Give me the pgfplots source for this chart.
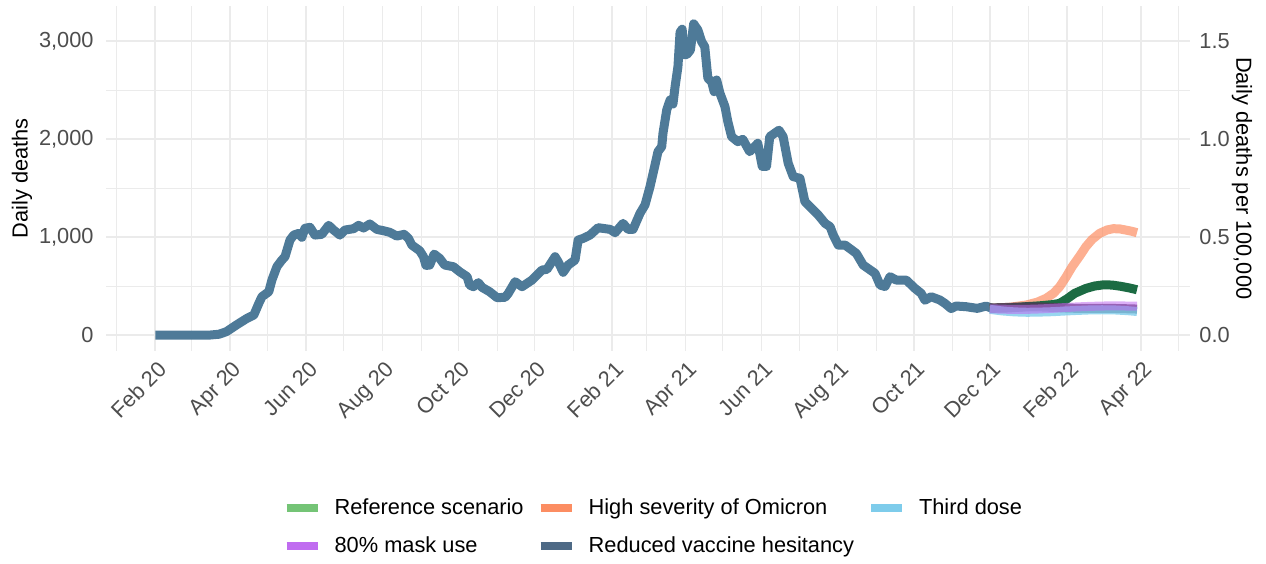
\documentclass[border=0pt]{standalone}
\usepackage{fontspec}
\setmainfont{Liberation Sans}
\usepackage{pgfplots}
\pgfplotsset{compat=1.18}

\definecolor{gridc}{HTML}{EBEBEB}
\definecolor{tickc}{HTML}{4D4D4D}
\definecolor{histc}{HTML}{4E7A98}
\definecolor{refline}{HTML}{1C6B43}
\definecolor{refkey}{HTML}{74C476}
\definecolor{sevc}{HTML}{FC8D62}
\definecolor{dosec}{HTML}{7ECCEB}
\definecolor{maskc}{HTML}{C06CF0}
\definecolor{vaxc}{HTML}{4E6A86}
\definecolor{vaxline}{HTML}{4F3A55}

\newcommand{\chartfont}{\fontsize{10.9}{13}\selectfont}

\pgfplotstableread{
day deaths
31 0
75 0
82 8
88 34
96 102
104.5 170
110 204
114 323
116.5 391
122 442
124.5 561
128.5 697
132.5 765
135 799
139 969
142 1020
146 1037
148.5 997
151 1089
155 1099
159 1020
164.5 1027
170 1119
174 1071
179 1020
183 1071
190 1085
194 1119
198 1092
203 1133
208.6 1078
214 1064
219 1048
224.6 1010
230.5 1027
234 986
236.7 918
243 860
246 799
248 710
251 714
254.5 826
259 782
263 714
270 697
275 646
281 595
283 510
286 493
290 534
293 486
299 442
305 381
311.5 385
314 425
319.5 544
325 493
333 561
341 663
345 670
351.5 799
354 748
358 640
362 714
367.5 765
370 969
374 986
379.5 1020
386 1095
395.6 1078
399.6 1044
406 1139
410 1078
414 1078
419.6 1242
423.6 1327
427.6 1513
431.6 1735
434 1871
437 1922
438 2058
441 2296
443.7 2398
446 2357
447.7 2534
450 2738
451.7 3090
453.4 3120
454.7 2860
457 2860
460 2908
462.6 3175
466 3112
469 2993
471.5 2942
474 2619
477 2585
479 2483
481 2602
483.7 2466
487.7 2330
490 2177
493 2024
498 1973
502 1997
507.5 1871
514 1956
517.6 1720
521 1720
523.6 2024
531 2090
534.3 2024
538.4 1752
542.4 1616
547.8 1599
551.8 1360
558.4 1276
562.5 1224
568 1139
572 1105
574.5 1020
578.5 918
584 918
593 833
598.5 714
608 629
612 510
616 495
620 595
625 561
633 561
640 476
645 425
648 355
653 391
660 357
664 323
669 270
673 296
681 289
690 272
697 295
702 272
}\histdata

\pgfplotstableread{
day deaths
700 272
715 282
729 306
738 335
745 374
751 425
756 493
761 590
766 697
772 805
777 901
782 975
788 1037
794 1072
799 1085
804 1083
809 1071
814 1058
818 1044
}\sevdata

\pgfplotstableread{
day deaths
700 272
715 276
729 289
740 298
750 310
756 323
762 370
768 425
777 475
784 500
791 512
798 510
805 497
812 480
818 462
}\refdata

\pgfplotstableread{
day deaths
700 262
710 246
720 236
730 232
740 234
750 238
760 245
770 251
780 256
790 258
800 256
810 249
818 240
}\dosedata

\pgfplotstableread{
day deaths
700 268
710 264
720 261
730 262
740 266
750 272
760 280
770 287
780 292
790 296
800 297
810 296
818 294
}\maskdata

\pgfplotstableread{
day deaths
700 276
710 280
720 284
730 287
740 287
750 282
760 276
770 272
780 272
790 272
800 271
810 268
818 265
}\vaxdata

\begin{document}
\begin{tikzpicture}
\pgfplotsset{
  every tick label/.append style={font=\chartfont, text=tickc, inner sep=0pt},
}
\begin{axis}[
  name=main,
  scale only axis, width=542pt, height=172.5pt,
  xmin=-8.5, xmax=860.5, ymin=-160, ymax=3360,
  axis line style={draw=none},
  major tick length=0pt, minor tick length=0pt,
  xtick={31,91,152,213,274,335,397,456,517,578,639,700,762,821},
  xticklabels={Feb 20,Apr 20,Jun 20,Aug 20,Oct 20,Dec 20,Feb 21,Apr 21,Jun 21,Aug 21,Oct 21,Dec 21,Feb 22,Apr 22},
  minor xtick={0,60,121,182,244,305,366,425,486,547,609,670,731,790,851},
  ytick={0,1000,2000,3000},
  minor ytick={500,1500,2500},
  grid=both,
  major grid style={gridc, line width=0.8pt},
  minor grid style={gridc, line width=0.4pt},
  xticklabel style={rotate=45, anchor=north east, xshift=-2.5pt, yshift=-3.7pt},
  yticklabel style={anchor=east, xshift=-6pt},
  /pgf/number format/assume math mode=true,
  every axis y label/.style={at={(axis description cs:-0.0775,0.5)}, anchor=center, rotate=90, font=\chartfont},
  ylabel={Daily deaths},
  legend columns=3,
  legend cell align=left,
  legend style={at={(axis description cs:0.504,-0.511)}, anchor=center, draw=none, fill=none,
    font=\chartfont, inner sep=0pt, row sep=9.5pt,
    nodes={inner sep=0pt},
    /tikz/every odd column/.append style={column sep=6.5pt},
    /tikz/every even column/.append style={column sep=6.5pt}},
  legend image code/.code={\draw[#1, line width=4pt] (0pt,0pt) -- (15.5pt,0pt);},
]
\addlegendimage{refkey}\addlegendentry{Reference scenario}
\addlegendimage{sevc}\addlegendentry{High severity of Omicron}
\addlegendimage{dosec}\addlegendentry{Third dose}
\addlegendimage{maskc}\addlegendentry{80\% mask use}
\addlegendimage{vaxc}\addlegendentry{Reduced vaccine hesitancy}

\addplot[histc, line width=4.5pt, line join=round, forget plot] table[x=day, y=deaths] {\histdata};
\addplot[sevc, opacity=0.7, line width=4.5pt, forget plot] table[x=day, y=deaths] {\sevdata};
\addplot[refline, line width=4.5pt, forget plot] table[x=day, y=deaths] {\refdata};
\addplot[vaxline, opacity=0.85, line width=4.5pt, forget plot] table[x=day, y=deaths] {\vaxdata};
\addplot[dosec, opacity=0.8, line width=4.5pt, forget plot] table[x=day, y=deaths] {\dosedata};
\addplot[maskc, opacity=0.55, line width=4.5pt, forget plot] table[x=day, y=deaths] {\maskdata};
\end{axis}

\begin{axis}[
  scale only axis, width=542pt, height=172.5pt,
  xmin=-8.5, xmax=860.5, ymin=-0.08, ymax=1.68,
  hide x axis,
  axis y line*=right,
  axis line style={draw=none},
  major tick length=0pt, minor tick length=0pt,
  ytick={0,0.5,1,1.5},
  yticklabel style={anchor=west, xshift=4.5pt, /pgf/number format/.cd, fixed, fixed zerofill, precision=1},
  /pgf/number format/assume math mode=true,
  every axis y label/.style={at={(axis description cs:1.048,0.5)}, anchor=center, rotate=-90, font=\chartfont},
  ylabel={Daily deaths per 100,000},
]
\end{axis}

\pgfresetboundingbox
\path[use as bounding box] ([xshift=-53pt, yshift=-106.15pt]main.south west) rectangle ([xshift=38pt, yshift=2.85pt]main.north east);
\end{tikzpicture}
\end{document}
